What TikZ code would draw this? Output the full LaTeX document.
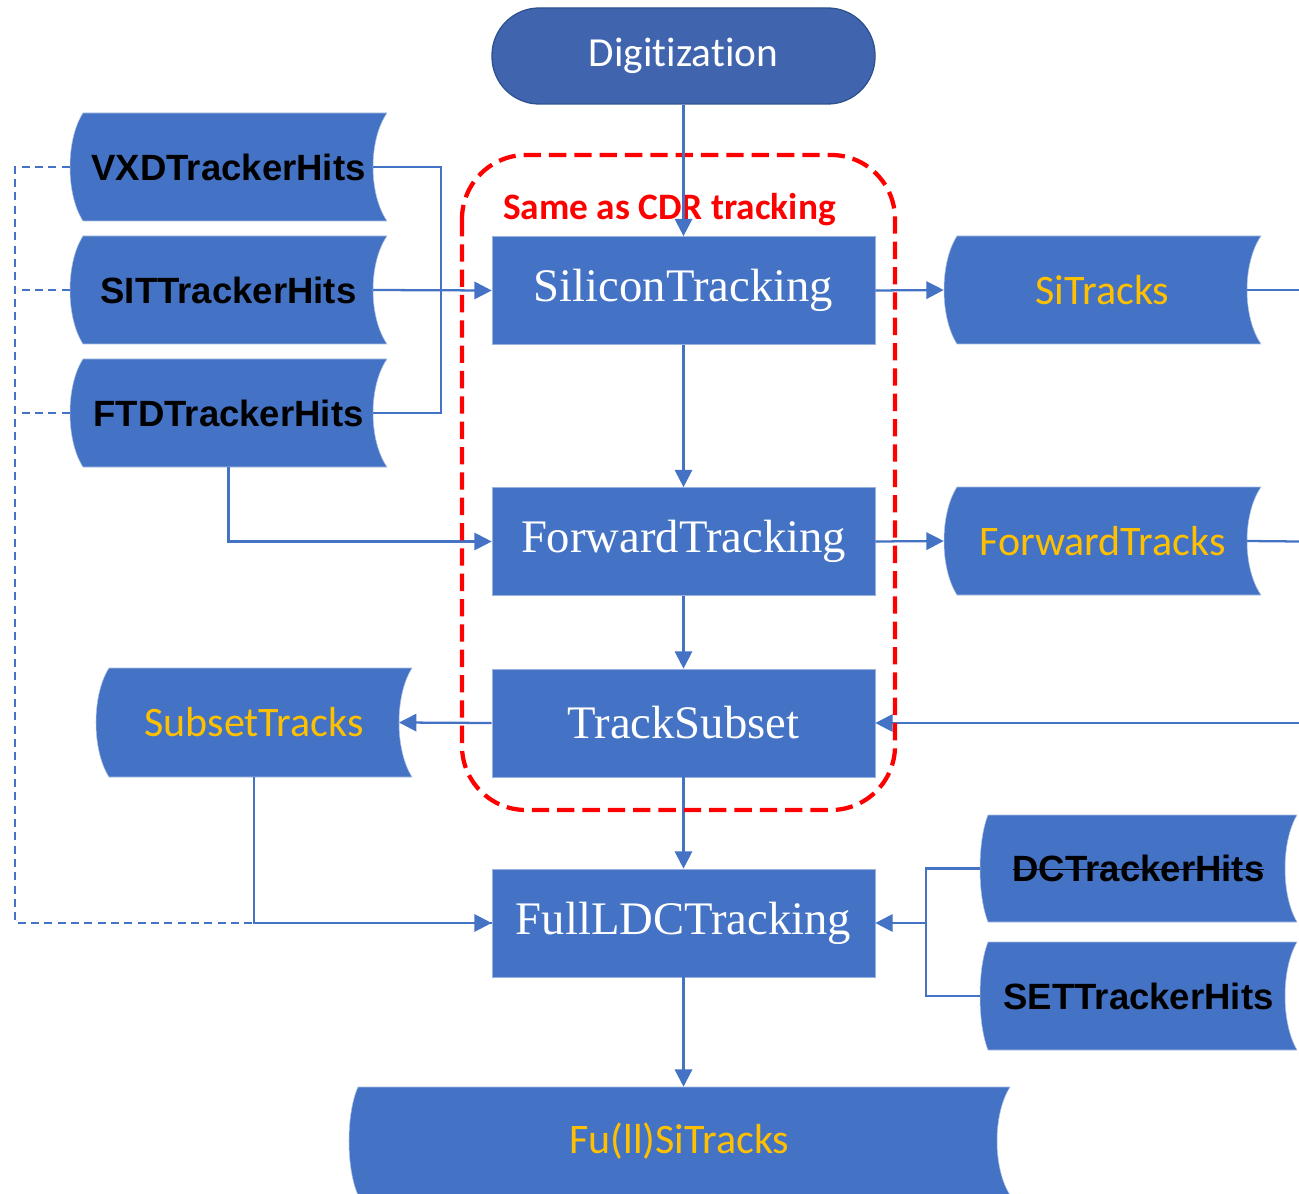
\documentclass[tikz,border=0pt]{standalone}
\usepackage{fontspec}
\setmainfont{Liberation Serif}
\newfontfamily\carlito[Ligatures=NoCommon]{Carlito}
\newfontfamily\arialfont{Liberation Sans}
\usetikzlibrary{arrows.meta}
\definecolor{boxblue}{RGB}{68,114,196}
\definecolor{digblue}{RGB}{64,101,174}
\definecolor{digborder}{RGB}{47,82,143}
\definecolor{ylw}{RGB}{255,192,0}
\newcommand\strk[1]{\setbox0=\hbox{#1}\rlap{\rule[0.31em]{\wd0}{0.045em}}\box0}
\newcommand\storeddata[9]{%
  \fill[boxblue, draw=boxblue!45!white, line width=0.4pt] ({#2+#6},#3) -- (#4,#3)
    .. controls ({#4-#7*4/3},{#3+(#5-#3)*0.25}) and ({#4-#7*4/3},{#3+(#5-#3)*0.75}) .. (#4,#5)
    -- ({#2+#6},#5)
    .. controls ({#2-#6/3},{#3+(#5-#3)*0.75}) and ({#2-#6/3},{#3+(#5-#3)*0.25}) .. cycle;
  \node[#8, minimum width={(#4-#2)*0.75pt}, minimum height={(#5-#3)*0.75pt}] (#1) at ({(#2+#4)/2},{(#3+#5)/2}) {#9};
  \coordinate (#1-in) at ({#4-#7},{(#3+#5)/2});
}
\tikzset{
  conn/.style={draw=boxblue, line width=1.7pt},
  arr/.style={conn, -{Triangle[length=13pt,width=13pt]}},
  dline/.style={conn, dash pattern=on 6pt off 4pt},
  proc/.style={fill=boxblue, draw=boxblue!55!white, line width=0.5pt, minimum width=287.25pt, minimum height=81pt, inner sep=0pt, text=white, font=\fontsize{35pt}{40pt}\selectfont},
  hits/.style={inner sep=0pt, text=black, font=\arialfont\bfseries\fontsize{27.4pt}{32pt}\selectfont},
  trk/.style={inner sep=0pt, text=ylw, font=\carlito\fontsize{31.5pt}{36pt}\selectfont},
}
\begin{document}
\begin{tikzpicture}[x=0.75pt,y=-0.75pt]
\useasboundingbox (0,0) rectangle (1299,1194);

\node[fill=digblue, draw=digborder, line width=1pt, rounded corners=35.5pt, minimum width=287.25pt, minimum height=72pt, inner sep=0pt, text=white, font=\carlito\fontsize{31pt}{36pt}\selectfont] (dig) at (683.5,56) {Digitization};

\node[proc] (sil) at (683.5,290.5) {SiliconTracking};
\node[proc] (fwd) at (683.5,541.5) {ForwardTracking};
\node[proc] (tsub) at (683.5,723) {TrackSubset};
\node[proc] (full) at (683.5,923) {FullLDCTracking};

\storeddata{vxd}{70}{113}{387}{221}{13}{14}{hits}{VXDTrackerHits}
\storeddata{sit}{70}{236}{387}{344}{13}{14}{hits}{SITTrackerHits}
\storeddata{ftd}{70}{359}{387}{467}{13}{14}{hits}{FTDTrackerHits}
\storeddata{sitr}{944}{236}{1261}{344}{13}{14}{trk}{SiTracks}
\storeddata{fwdt}{944}{487}{1261}{595}{13}{14}{trk}{ForwardTracks}
\storeddata{subt}{96}{668}{412}{777}{13}{13}{trk}{SubsetTracks}
\storeddata{dc}{980}{815}{1297}{922}{8}{12}{hits}{\strk{DCTrackerHits}}
\storeddata{set}{980}{942}{1297}{1050}{8}{12}{hits}{SETTrackerHits}
\storeddata{fsi}{349}{1087}{1010}{1195}{9}{13}{trk}{Fu(ll)SiTracks}

\coordinate (j1) at (441,290);
\coordinate (dcorner) at (15,923);
\coordinate (j2) at (926,923);
\coordinate (outA) at (1299,290);
\coordinate (outB) at (1299,541.5);
\coordinate (outC) at (1299,723);

\node[anchor=base west, text=red, inner sep=0pt, font=\carlito\bfseries\fontsize{28pt}{32pt}\selectfont] (cdrlabel) at (503,220) {Same as CDR tracking};

\draw[conn] (vxd-in) -| (j1);
\draw[conn] (ftd-in) -| (j1);
\draw[arr] (sit-in) -- (sil.west);
\draw[dline] (vxd.west) -| (dcorner) -- (full.west);
\draw[dline] (sit.west) -- (sit.west -| dcorner);
\draw[dline] (ftd.west) -- (ftd.west -| dcorner);
\draw[arr] (subt.south) |- (full.west);
\draw[arr] (ftd.south) |- (fwd.west);
\draw[arr] (sil.south) -- (fwd.north);
\draw[arr] (fwd.south) -- (tsub.north);
\draw[arr] (tsub.south) -- (full.north);
\draw[arr] (sil.east) -- (sitr.west);
\draw[arr] (fwd.east) -- (fwdt.west);
\draw[conn] (sitr-in) -- (outA);
\draw[conn] (fwdt-in) -- (outB);
\draw[arr] (outC) -- (tsub.east);
\draw[arr] (tsub.west) -- (subt-in);
\draw[conn] (dc.west) -| (j2);
\draw[conn] (set.west) -| (j2);
\draw[arr] (j2) -- (full.east);
\draw[arr] (full.south) -- (full.south |- fsi.north);

\draw[red, line width=3.2pt, dash pattern=on 13pt off 6pt, rounded corners=48pt] (462,155) rectangle (895,810);

\draw[arr] (dig.south) -- (sil.north);
\end{tikzpicture}
\end{document}
